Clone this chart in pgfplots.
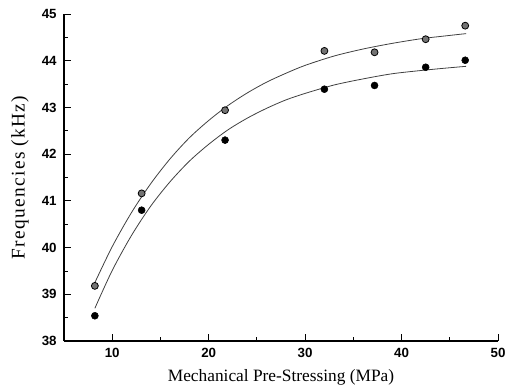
\documentclass[border=0pt]{standalone}
\usepackage{fontspec}
\setmainfont{Liberation Serif}
\setsansfont{Liberation Sans}
\usepackage{pgfplots}
\pgfplotsset{compat=1.18}
\begin{document}
\begin{tikzpicture}[x=1pt,y=1pt]
\begin{axis}[
  name=ax,
  width=325.5pt, height=245.25pt, scale only axis,
  xmin=5, xmax=50, ymin=38, ymax=45,
  axis x line*=bottom, axis y line*=left,
  xtick={10,20,30,40,50}, ytick={38,39,40,41,42,43,44,45},
  minor x tick num=1, minor y tick num=1,
  tick align=inside,
  major tick length=5pt, minor tick length=3pt,
  every tick/.style={black, line width=0.6pt},
  axis line style={black, line width=0.8pt},
  tick label style={font=\sffamily\bfseries\fontsize{10}{12}\selectfont},
  /pgf/number format/assume math mode=true,
  xticklabel style={yshift=-2pt},
  yticklabel style={xshift=-2pt},
  xlabel={Mechanical Pre-Stressing (MPa)},
  ylabel={Frequencies (kHz)},
  xlabel style={font=\fontsize{13}{15}\selectfont, at={(axis description cs:0.5,-0.110)}, anchor=center},
  ylabel style={font=\fontsize{14.5}{16}\selectfont\addfontfeatures{LetterSpace=7}, at={(axis description cs:-0.1014,0.5)}, anchor=center, rotate=0},
  clip=false,
]
% fitted curves
\addplot[black!75, line width=0.6pt, smooth] coordinates {
(8.2,39.25)(10,40.02)(12,40.75)(14,41.37)(16,41.90)(18,42.35)(20,42.72)(22,43.04)
(24,43.31)(26,43.54)(28,43.73)(30,43.90)(33,44.10)(36,44.25)(39,44.37)(42,44.47)
(44.5,44.53)(46.7,44.58)};
\addplot[black!75, line width=0.6pt, smooth] coordinates {
(8.2,38.70)(10,39.51)(12,40.26)(14,40.89)(16,41.41)(18,41.85)(20,42.21)(22,42.52)
(24,42.77)(26,42.98)(28,43.16)(30,43.30)(33,43.48)(36,43.61)(39,43.72)(42,43.79)
(44.5,43.84)(46.7,43.88)};
% data points
\addplot[only marks, mark=*, mark size=2.6pt, mark options={draw=black, fill=black!55, line width=0.6pt}] coordinates {
(8.2,39.18)(13.05,41.16)(21.7,42.94)(32,44.21)(37.2,44.18)(42.5,44.46)(46.6,44.75)};
\addplot[only marks, mark=*, mark size=2.6pt, mark options={draw=black, fill=black}] coordinates {
(8.2,38.54)(13.05,40.80)(21.7,42.30)(32,43.39)(37.2,43.47)(42.5,43.86)(46.6,44.01)};
\end{axis}
\pgfresetboundingbox
\path[use as bounding box] ([shift={(-48pt,-37.5pt)}]ax.south west) rectangle ([shift={(8.25pt,10.5pt)}]ax.north east);
\end{tikzpicture}
\end{document}
